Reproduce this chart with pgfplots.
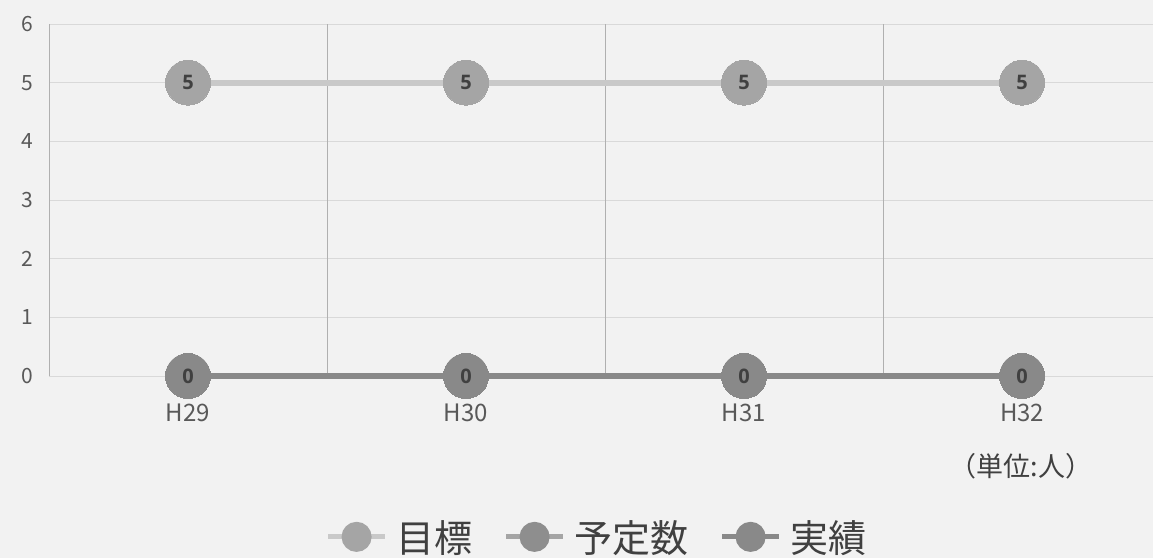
\documentclass[border=0pt]{standalone}
\usepackage{pgfplots}
\pgfplotsset{compat=1.18}
\usepackage{fontspec}
\setmainfont{Noto Sans CJK JP}
\newfontfamily\numfont{Open Sans}
\definecolor{bg}{HTML}{F2F2F2}
\definecolor{txt}{HTML}{595959}
\definecolor{lbl}{HTML}{404040}
\definecolor{gridc}{HTML}{D9D9D9}
\definecolor{vgrid}{HTML}{B0B0B0}
\definecolor{tline}{HTML}{C9C9C9}
\definecolor{tmark}{HTML}{A5A5A5}
\definecolor{yline}{HTML}{A5A5A5}
\definecolor{ymark}{HTML}{8E8E8E}
\definecolor{jline}{HTML}{898989}
\definecolor{jmark}{HTML}{898989}
\newcommand{\lblfont}{\numfont\bfseries\fontsize{20}{20}\selectfont}
\pgfplotsset{labs/.style={nodes near coords={\hbox{\lblfont\pgfplotspointmeta}},
  point meta=explicit symbolic,
  every node near coord/.style={anchor=center, text=lbl, font=\lblfont, inner sep=0pt}}}
\begin{document}
\begin{tikzpicture}[x=1pt,y=1pt]
\fill[bg] (0,0) rectangle (1153,558);
\useasboundingbox (0,0) rectangle (1153,558);
\begin{axis}[
  at={(49pt,182pt)}, anchor=south west,
  scale only axis, width=1104pt, height=352pt,
  xmin=-0.5, xmax=3.471, ymin=0, ymax=6,
  clip=false,
  axis line style={draw=none},
  major tick length=0pt,
  xtick={0,1,2,3},
  xticklabels={H29,H30,H31,H32},
  ytick={0,1,2,3,4,5,6},
  ymajorgrids, grid style={gridc, line width=1pt},
  extra x ticks={-0.5,0.5,1.5,2.5},
  extra x tick labels={},
  extra x tick style={grid=major, major grid style={vgrid, line width=0.8pt}},
  /pgf/number format/assume math mode=true,
  yticklabel style={font=\fontsize{21}{21}\selectfont, text=txt, xshift=-12pt},
  xticklabel style={font=\fontsize{24}{24}\selectfont, text=txt, yshift=-24pt},
  legend columns=3,
  legend style={draw=none, fill=none, at={(0.496,-0.457)}, anchor=center,
    font=\fontsize{38}{38}\selectfont, text=lbl,
    nodes={inner sep=1pt},
    /tikz/every odd column/.append style={column sep=8pt},
    /tikz/every even column/.append style={column sep=30pt}},
]
\addplot[draw=tline, line width=6pt, mark=*, mark size=22.5pt,
  mark options={fill=tmark, draw=tmark, line width=0pt}, labs,
  legend image code/.code={\draw[tline, line width=5pt] (0pt,0pt) -- (57pt,0pt); \fill[tmark] (28.5pt,0pt) circle (12pt);}]
  coordinates {(0,5)[5] (1,5)[5] (2,5)[5] (3,5)[5]};
\addlegendentry{目標}
\addplot[draw=yline, line width=6pt, mark=*, mark size=22.5pt,
  mark options={fill=ymark, draw=ymark, line width=0pt},
  legend image code/.code={\draw[yline, line width=5pt] (0pt,0pt) -- (57pt,0pt); \fill[ymark] (28.5pt,0pt) circle (12pt);}]
  coordinates {(0,0) (1,0) (2,0) (3,0)};
\addlegendentry{予定数}
\addplot[draw=jline, line width=6pt, mark=*, mark size=22.5pt,
  mark options={fill=jmark, draw=jmark, line width=0pt}, labs,
  legend image code/.code={\draw[jline, line width=5pt] (0pt,0pt) -- (57pt,0pt); \fill[jmark] (28.5pt,0pt) circle (12pt);}]
  coordinates {(0,0)[0] (1,0)[0] (2,0)[0] (3,0)[0]};
\addlegendentry{実績}
\end{axis}
\node[font=\fontsize{27}{27}\selectfont, text=lbl] at (1021,92) {（単位:人）};
\end{tikzpicture}
\end{document}
